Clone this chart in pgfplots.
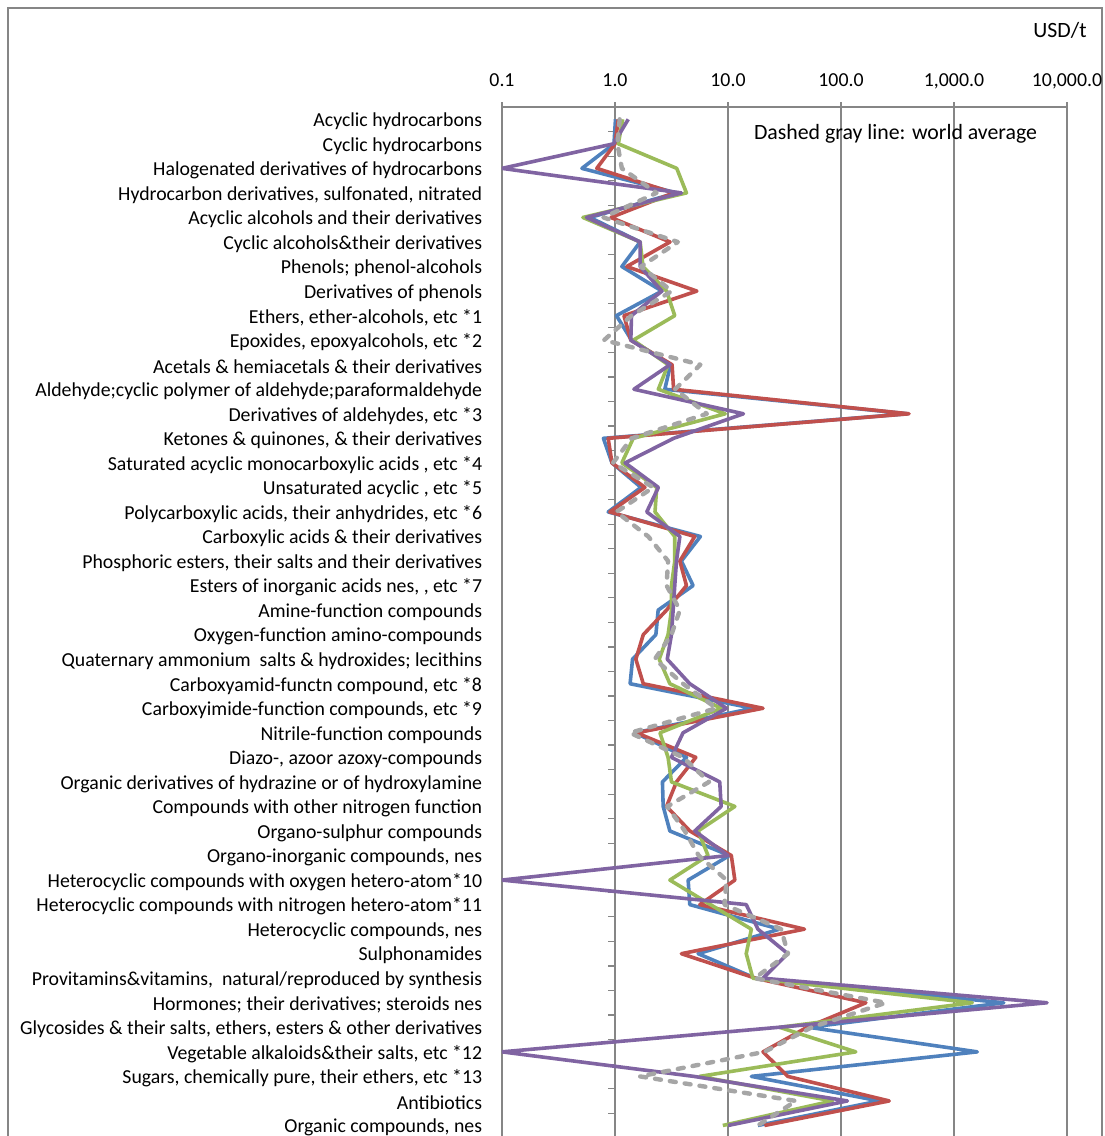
\documentclass[border=0pt]{standalone}
\usepackage{pgfplots}
\pgfplotsset{compat=1.18}
\usepackage{pgfplotstable}
\usepackage{fontspec}
\setmainfont{Carlito}
\definecolor{sblue}{HTML}{4F81BD}
\definecolor{sred}{HTML}{C0504D}
\definecolor{sgreen}{HTML}{9BBB59}
\definecolor{spurple}{HTML}{8064A2}
\definecolor{sgray}{HTML}{A6A6A6}
\definecolor{gridc}{HTML}{868686}
\pgfplotstableread{
y b r g p w
1 1.01 1.07 1.17 1.31 1.10
2 0.98 1.00 1.07 0.97 1.05
3 0.51 0.69 3.52 0.10 1.15
4 3.50 3.30 4.29 3.87 2.33
5 0.60 0.92 0.52 0.56 0.79
6 1.67 3.07 1.67 1.67 3.60
7 1.15 1.27 1.77 1.67 1.70
8 2.60 5.30 2.86 2.60 3.18
9 1.03 1.20 3.38 1.40 1.40
10 1.40 1.38 1.45 1.38 0.80
11 3.10 3.20 2.95 3.07 5.70
12 2.76 3.30 2.42 1.47 3.40
13 390 400 9.45 13.7 6.50
14 0.79 0.87 1.45 3.30 1.40
15 0.94 0.94 1.15 1.23 0.96
16 1.70 1.84 2.34 2.42 2.18
17 0.87 0.90 2.26 1.91 1.03
18 5.70 5.08 3.38 3.75 1.97
19 3.87 3.75 3.38 3.50 2.95
20 4.91 4.29 3.16 3.38 2.86
21 2.41 2.86 3.16 3.27 3.75
22 2.30 1.78 2.95 3.16 3.16
23 1.43 1.53 2.46 2.90 2.25
24 1.36 1.78 3.06 4.59 4.00
25 16.6 20.4 8.70 9.70 7.90
26 1.50 1.55 2.50 4.00 1.36
27 4.30 5.19 2.95 3.16 4.00
28 2.63 3.50 3.16 8.45 6.80
29 2.67 2.86 11.5 8.70 2.90
30 3.06 4.60 5.44 5.08 4.15
31 10.3 10.7 6.66 10.0 5.50
32 4.44 11.5 3.06 0.10 9.70
33 4.59 5.63 7.00 14.5 9.30
34 28.6 47.5 16.1 18.4 29.5
35 5.44 3.87 14.5 33.8 34.0
36 17.5 17.5 16.6 20.4 17.2
37 2760 166 1450 6660 250
38 52.0 50.0 28.6 28.0 55.0
39 1607 20.4 135 0.10 21.0
40 16.1 33.8 5.60 5.00 1.66
41 218 267 84.0 114 40.0
42 18.4 21.0 9.00 10.0 18.4
}\data
\begin{document}
\begin{tikzpicture}
\draw[gridc, line width=0.6pt] (4pt,-572pt) -- (4pt,-4pt) -- (551pt,-4pt) -- (551pt,-572pt);
\begin{axis}[
 at={(251pt,-53.5pt)}, anchor=north west,
 scale only axis, width=282.5pt, height=514.5pt,
 xmode=log, xmin=0.1, xmax=10000,
 ymin=0.5, ymax=42.43, y dir=reverse,
 axis x line=top, axis y line=left,
 x axis line style={-, draw=gridc, line width=0.6pt},
 y axis line style={draw=none},
 xtick={0.1,1,10,100,1000,10000},
 xticklabels={0.1,1.0,10.0,100.0,{1,000.0},{10,000.0}},
 xtick align=outside, major tick length=2.5pt,
 x tick style={draw=gridc, line width=0.6pt},
 minor x tick style={draw=none},
 xmajorgrids, grid style={draw=gridc, line width=0.6pt},
 ytick={1,...,42},
 yticklabels={
 {Acyclic hydrocarbons},
 {Cyclic hydrocarbons},
 {Halogenated derivatives of hydrocarbons},
 {Hydrocarbon derivatives, sulfonated, nitrated},
 {Acyclic alcohols and their derivatives},
 {Cyclic alcohols\&their derivatives},
 {Phenols; phenol-alcohols},
 {Derivatives of phenols},
 {Ethers, ether-alcohols, etc *1},
 {Epoxides, epoxyalcohols, etc *2},
 {Acetals \& hemiacetals \& their derivatives},
 {Aldehyde;cyclic polymer of aldehyde;paraformaldehyde},
 {Derivatives of aldehydes, etc *3},
 {Ketones \& quinones, \& their derivatives},
 {Saturated acyclic monocarboxylic acids , etc *4},
 {Unsaturated acyclic , etc *5},
 {Polycarboxylic acids, their anhydrides, etc *6},
 {Carboxylic acids \& their derivatives},
 {Phosphoric esters, their salts and their derivatives},
 {Esters of inorganic acids nes, , etc *7},
 {Amine-function compounds},
 {Oxygen-function amino-compounds},
 {Quaternary ammonium\ \ salts \& hydroxides; lecithins},
 {Carboxyamid-functn compound, etc *8},
 {Carboxyimide-function compounds, etc *9},
 {Nitrile-function compounds},
 {Diazo-, azoor azoxy-compounds},
 {Organic derivatives of hydrazine or of hydroxylamine},
 {Compounds with other nitrogen function},
 {Organo-sulphur compounds},
 {Organo-inorganic compounds, nes},
 {Heterocyclic compounds with oxygen hetero-atom*10},
 {Heterocyclic compounds with nitrogen hetero-atom*11},
 {Heterocyclic compounds, nes},
 {Sulphonamides},
 {Provitamins\&vitamins,\ \ natural/reproduced by synthesis},
 {Hormones; their derivatives; steroids nes},
 {Glycosides \& their salts, ethers, esters \& other derivatives},
 {Vegetable alkaloids\&their salts, etc *12},
 {Sugars, chemically pure, their ethers, etc *13},
 {Antibiotics},
 {Organic compounds, nes}},
 y tick style={draw=none},
 tick label style={font=\fontsize{9.9}{11}\selectfont, text=black},
 yticklabel style={anchor=east, inner sep=0pt, xshift=-8.5pt, yshift=-1pt},
 xticklabel style={anchor=base, inner sep=0pt, yshift=8pt},
 clip=true,
 every axis plot/.append style={line width=1.8pt, line join=round},
]
\draw[gridc, line width=0.7pt] (axis cs:1,0.5) -- (axis cs:1,42.43);
\pgfplotsinvokeforeach{1,...,41}{\draw[gridc, line width=0.6pt] (axis cs:1,#1.5) -- ([xshift=-3.3pt]axis cs:1,#1.5);}
\addplot[sblue] table[x=b, y=y] {\data};
\addplot[sred] table[x=r, y=y] {\data};
\addplot[sgreen] table[x=g, y=y] {\data};
\addplot[spurple] table[x=p, y=y] {\data};
\addplot[sgray, line width=2.2pt, line cap=round, dash pattern=on 3pt off 4.5pt] table[x=w, y=y] {\data};
\end{axis}
\node[font=\fontsize{10.9}{12}\selectfont] at (530pt,-15pt) {USD/t};
\node[font=\fontsize{10.9}{12}\selectfont] at (447.75pt,-67pt) {Dashed gray line: world average};
\pgfresetboundingbox
\path[use as bounding box] (0,0) rectangle (552pt,-568pt);
\end{tikzpicture}
\end{document}
